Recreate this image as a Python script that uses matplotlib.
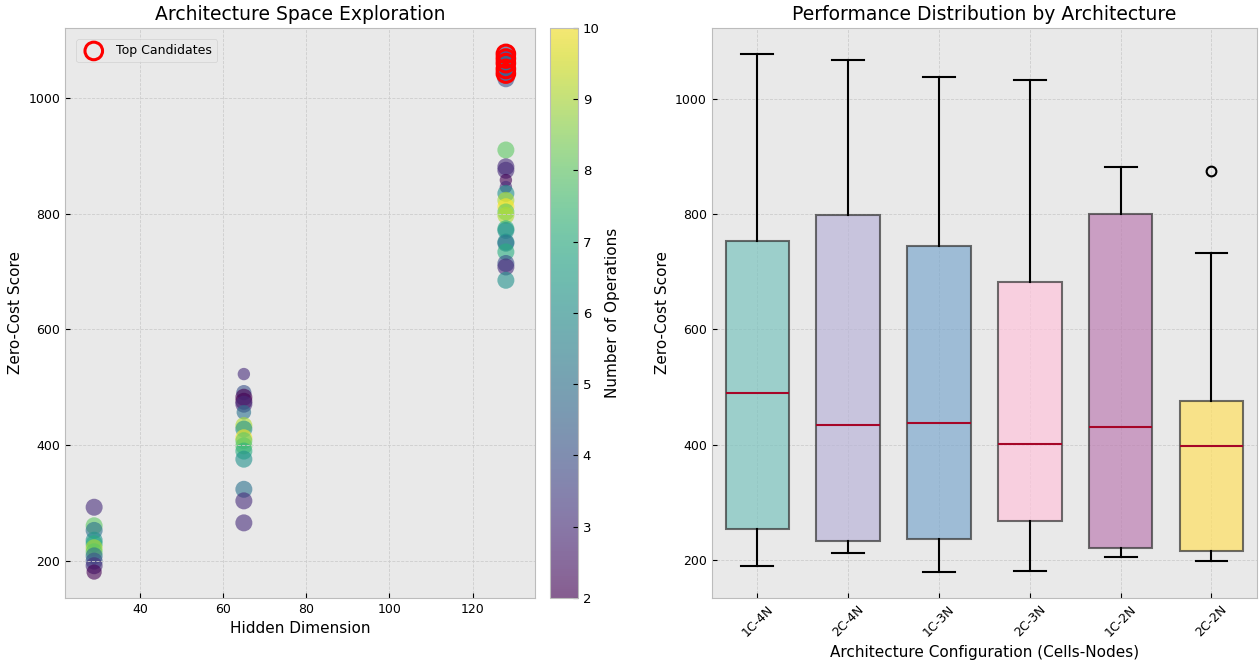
"""
Architecture search overview: zero-cost score vs hidden dimension,
plus score distribution per cell/node configuration.
"""

import matplotlib
matplotlib.use('Agg')
import matplotlib.pyplot as plt

# scatter data (hidden dim, zero-cost score, number of ops, marker size)
hidden_dim = [29] * 11 + [65] * 16 + [128] * 24
zc_score = [293, 261, 253, 236, 230, 223, 216, 209, 200, 192, 181,
            523, 491, 483, 476, 471, 457, 434, 428, 413, 408, 399, 390, 376, 324, 304, 266,
            1076, 1068, 1060, 1050, 1042, 1033,
            910, 881, 875, 858, 846, 835, 823, 812, 803, 797, 774, 771, 751, 749, 734, 714, 708, 685]
n_ops = [3, 8, 5, 6, 7, 9, 8, 5, 4, 3, 2,
         3, 4, 2, 2, 3, 5, 9, 6, 10, 8, 8, 7, 6, 5, 3, 3,
         4, 3, 5, 6, 4, 4,
         8, 3, 3, 2, 3, 6, 9, 10, 8, 9, 7, 6, 6, 5, 7, 4, 3, 6]
marker_size = [150, 150, 150, 150, 150, 150, 150, 150, 150, 150, 120,
               80, 120, 150, 150, 150, 110, 150, 150, 150, 150, 150, 150, 150, 150, 150, 150,
               150, 150, 150, 150, 150, 150,
               150, 150, 150, 80, 80, 150, 150, 150, 150, 150, 150, 150, 150, 150, 150, 150, 150, 150]
n_top = 5

# box plot summary per configuration
configs = ['1C-4N', '2C-4N', '1C-3N', '2C-3N', '1C-2N', '2C-2N']
whis_lo = [190, 212, 179, 181, 205, 198]
q1 = [254, 233, 236, 268, 221, 216]
median = [489, 434, 437, 402, 430, 397]
q3 = [754, 799, 744, 683, 801, 475]
whis_hi = [1078, 1067, 1038, 1033, 881, 732]
fliers = [[], [], [], [], [], [875]]
box_colors = ['#7cc4bf', '#bab5d8', '#7ea9ce', '#ffc5dc', '#be7fb3', '#ffe061']

plt.style.use('bmh')
plt.rcParams.update({
    'axes.facecolor': '#e9e9e9',
    'grid.color': '#cdcdcd',
    'grid.linestyle': '--',
    'grid.linewidth': 0.6,
    'xtick.labelsize': 9,
    'ytick.labelsize': 9,
    'axes.labelsize': 11,
    'axes.titlesize': 13.5,
    'legend.fontsize': 9,
})

fig = plt.figure(figsize=(12.6, 6.71), dpi=100)
ax1 = fig.add_axes([0.0516, 0.1088, 0.373, 0.8495])
cax = fig.add_axes([0.4365, 0.1088, 0.0222, 0.8495])
ax2 = fig.add_axes([0.565, 0.1088, 0.4325, 0.8495])

# 左: スキャッター
sc = ax1.scatter(hidden_dim, zc_score, c=n_ops, s=marker_size, cmap='viridis',
                 alpha=0.6, vmin=2, vmax=10, edgecolors='none')
order = sorted(range(len(zc_score)), key=lambda i: zc_score[i], reverse=True)[:n_top]
ax1.scatter([hidden_dim[i] for i in order], [zc_score[i] for i in order],
            s=160, facecolors='none', edgecolors='red', linewidths=2.2,
            label='Top Candidates')
ax1.set_xlim(22, 135)
ax1.set_xlabel('Hidden Dimension')
ax1.set_ylabel('Zero-Cost Score')
ax1.set_title('Architecture Space Exploration')
ax1.legend(loc='upper left', borderaxespad=0.9)

cbar = fig.colorbar(sc, cax=cax, ticks=range(2, 11))
cbar.set_label('Number of Operations', fontsize=11)
cbar.ax.grid(False)
cbar.ax.tick_params(labelsize=9.5)

# 右: 箱ひげ図
stats = [dict(label=c, whislo=lo, q1=a, med=m, q3=b, whishi=hi, fliers=f)
         for c, lo, a, m, b, hi, f in zip(configs, whis_lo, q1, median, q3, whis_hi, fliers)]
bp = ax2.bxp(stats, patch_artist=True, widths=0.7,
             boxprops=dict(edgecolor='#333333', linewidth=1.5),
             whiskerprops=dict(color='black', linewidth=1.5),
             capprops=dict(color='black', linewidth=1.5),
             medianprops=dict(color='#A60628', linewidth=1.5),
             flierprops=dict(marker='o', markerfacecolor='none',
                             markeredgecolor='black', markersize=7,
                             markeredgewidth=1.5))
for patch, col in zip(bp['boxes'], box_colors):
    patch.set_facecolor(col)
    patch.set_alpha(0.7)
ax2.set_xlabel('Architecture Configuration (Cells-Nodes)')
ax2.set_ylabel('Zero-Cost Score')
ax2.set_title('Performance Distribution by Architecture')
ax2.tick_params(axis='x', labelrotation=45)

plt.savefig('out.png', dpi=100)
plt.close(fig)
